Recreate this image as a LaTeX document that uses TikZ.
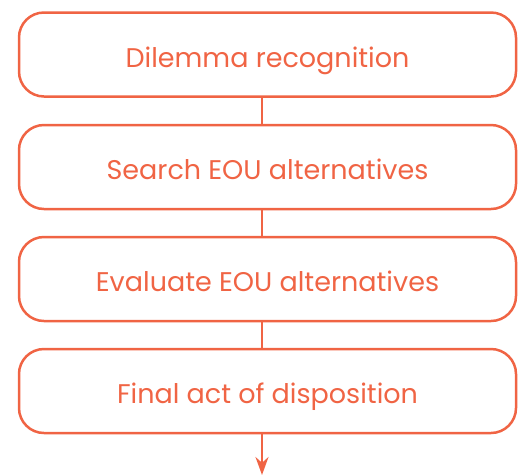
\documentclass[tikz,border=0pt]{standalone}
\usepackage{fontspec}
\setmainfont{Poppins}
\usepackage{tikz}
\usetikzlibrary{positioning}
\usetikzlibrary{arrows.meta}
\definecolor{myorange}{RGB}{240,100,68}

\begin{document}
\begin{tikzpicture}[x=1pt,y=-1pt]
	\useasboundingbox (0,0) rectangle (519,475);
	\begin{scope}[every node/.style={draw=myorange,line width=2.5pt,rounded corners=25pt,
	              minimum width=497pt,minimum height=84pt,inner sep=0pt,
	              text height=25pt,text depth=0pt,
	              text=myorange,font=\fontsize{27}{30}\selectfont}]
	    \node (R) at (267.5,54.5) {Dilemma recognition};
	    \node (S) at (267.5,167) {Search EOU alternatives};
	    \node (E) at (267.5,279) {Evaluate EOU alternatives};
	    \node (F) at (267.5,391) {Final act of disposition};
	\end{scope}
	\coordinate (out) at (262,475);

	\begin{scope}[>={Stealth[length=18pt,width=13pt]},
	              every edge/.style={draw=myorange,line width=2.5pt}]
    	\path ([xshift=-5.5pt]R.south) edge ([xshift=-5.5pt]S.north);
    	\path ([xshift=-5.5pt]S.south) edge ([xshift=-5.5pt]E.north);
    	\path ([xshift=-5.5pt]E.south) edge ([xshift=-5.5pt]F.north);
    	\path [->] ([xshift=-5.5pt]F.south) edge (out);
	\end{scope}
\end{tikzpicture}
\end{document}
